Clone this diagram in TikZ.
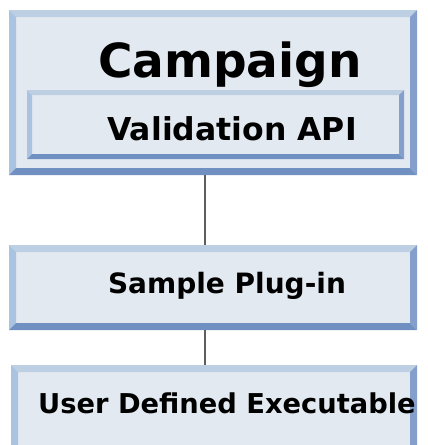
\documentclass[tikz,border=0pt]{standalone}
\usepackage{fontspec}
\setmainfont{DejaVu Sans}
\definecolor{boxfill}{HTML}{E3E9F0}
\definecolor{bvtop}{HTML}{BCCFE3}
\definecolor{bvleft}{HTML}{A9C3E1}
\definecolor{bvright}{HTML}{849FCB}
\definecolor{bvbottom}{HTML}{7190C2}
\definecolor{linkgray}{HTML}{5E5E5E}
\tikzset{
  bevel/.style={inner sep=0pt, outer sep=0pt, fill=boxfill,
    path picture={
      \fill[bvtop] (path picture bounding box.north west) -- (path picture bounding box.north east)
        -- ([xshift=-#1pt,yshift=-#1pt]path picture bounding box.north east)
        -- ([xshift=#1pt,yshift=-#1pt]path picture bounding box.north west) -- cycle;
      \fill[bvleft] (path picture bounding box.north west) -- (path picture bounding box.south west)
        -- ([xshift=#1pt,yshift=#1pt]path picture bounding box.south west)
        -- ([xshift=#1pt,yshift=-#1pt]path picture bounding box.north west) -- cycle;
      \fill[bvright] (path picture bounding box.north east) -- (path picture bounding box.south east)
        -- ([xshift=-#1pt,yshift=#1pt]path picture bounding box.south east)
        -- ([xshift=-#1pt,yshift=-#1pt]path picture bounding box.north east) -- cycle;
      \fill[bvbottom] (path picture bounding box.south west) -- (path picture bounding box.south east)
        -- ([xshift=-#1pt,yshift=#1pt]path picture bounding box.south east)
        -- ([xshift=#1pt,yshift=#1pt]path picture bounding box.south west) -- cycle;
    }},
  label/.style={anchor=base, inner sep=0pt, font=\bfseries},
  link/.style={draw=linkgray, line width=2pt}
}
\begin{document}
\begin{tikzpicture}[x=1pt,y=-1pt]
\useasboundingbox (0,0) rectangle (428,445);
\clip (0,0) rectangle (428,445);
\node[bevel=7, minimum width=408pt, minimum height=165pt] (campaign) at (213,92.5) {};
\node[bevel=5, minimum width=377pt, minimum height=69pt] (api) at (215.5,124.5) {};
\node[bevel=7, minimum width=408pt, minimum height=85pt] (sample) at (213,287.5) {};
\node[bevel=7, minimum width=406pt, minimum height=115pt] (user) at (214,422.5) {};
\node[label, font=\bfseries\fontsize{47}{50}\selectfont] (tcamp) at (230,77) {Campaign};
\node[label, font=\bfseries\fontsize{31.5}{34}\selectfont] (tapi) at (232,140) {Validation API};
\node[label, font=\bfseries\fontsize{28}{30}\selectfont] (tsample) at (227,293) {Sample Plug-in};
\node[label, font=\bfseries\fontsize{27.3}{29}\selectfont, anchor=base west] (tuser) at (38,413) {User Defined Executable};
\coordinate (lx) at (205,0);
\draw[link] (campaign.south -| lx) -- (sample.north -| lx);
\draw[link] (sample.south -| lx) -- (user.north -| lx);
\end{tikzpicture}
\end{document}
